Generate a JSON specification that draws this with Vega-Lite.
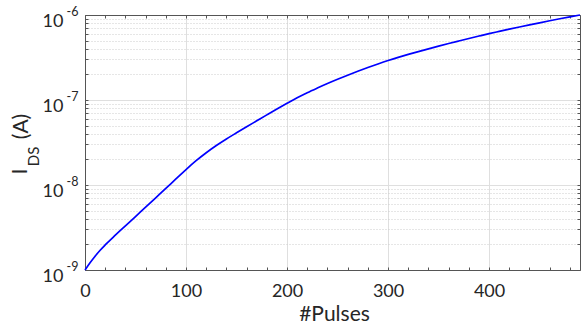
{
  "$schema": "https://vega.github.io/schema/vega-lite/v6.json",
  "width": 495,
  "height": 255,
  "autosize": {"type": "none"},
  "padding": {"left": 85, "top": 15, "right": 1, "bottom": 59},
  "background": "white",
  "config": {
    "view": {"stroke": null},
    "axis": {"labelFont": "Lato", "titleFont": "Lato", "labelColor": "#262626", "titleColor": "#262626", "titleFontWeight": "normal"}
  },
  "data": {
    "values": [
      {"pulses": 0, "ids": 1.000e-9},
      {"pulses": 5, "ids": 1.216e-9},
      {"pulses": 10, "ids": 1.454e-9},
      {"pulses": 15, "ids": 1.708e-9},
      {"pulses": 20, "ids": 1.972e-9},
      {"pulses": 30, "ids": 2.565e-9},
      {"pulses": 40, "ids": 3.304e-9},
      {"pulses": 50, "ids": 4.256e-9},
      {"pulses": 60, "ids": 5.483e-9},
      {"pulses": 70, "ids": 7.063e-9},
      {"pulses": 80, "ids": 9.099e-9},
      {"pulses": 90, "ids": 1.178e-8},
      {"pulses": 100, "ids": 1.521e-8},
      {"pulses": 110, "ids": 1.932e-8},
      {"pulses": 120, "ids": 2.399e-8},
      {"pulses": 130, "ids": 2.917e-8},
      {"pulses": 140, "ids": 3.483e-8},
      {"pulses": 150, "ids": 4.111e-8},
      {"pulses": 160, "ids": 4.842e-8},
      {"pulses": 170, "ids": 5.689e-8},
      {"pulses": 180, "ids": 6.683e-8},
      {"pulses": 190, "ids": 7.834e-8},
      {"pulses": 200, "ids": 9.141e-8},
      {"pulses": 210, "ids": 1.062e-7},
      {"pulses": 220, "ids": 1.219e-7},
      {"pulses": 230, "ids": 1.384e-7},
      {"pulses": 240, "ids": 1.563e-7},
      {"pulses": 250, "ids": 1.754e-7},
      {"pulses": 260, "ids": 1.959e-7},
      {"pulses": 270, "ids": 2.178e-7},
      {"pulses": 280, "ids": 2.410e-7},
      {"pulses": 290, "ids": 2.655e-7},
      {"pulses": 300, "ids": 2.911e-7},
      {"pulses": 310, "ids": 3.170e-7},
      {"pulses": 320, "ids": 3.436e-7},
      {"pulses": 330, "ids": 3.711e-7},
      {"pulses": 340, "ids": 3.999e-7},
      {"pulses": 350, "ids": 4.300e-7},
      {"pulses": 360, "ids": 4.618e-7},
      {"pulses": 370, "ids": 4.949e-7},
      {"pulses": 380, "ids": 5.297e-7},
      {"pulses": 390, "ids": 5.656e-7},
      {"pulses": 400, "ids": 6.033e-7},
      {"pulses": 410, "ids": 6.412e-7},
      {"pulses": 420, "ids": 6.808e-7},
      {"pulses": 430, "ids": 7.219e-7},
      {"pulses": 440, "ids": 7.647e-7},
      {"pulses": 450, "ids": 8.091e-7},
      {"pulses": 460, "ids": 8.551e-7},
      {"pulses": 470, "ids": 9.026e-7},
      {"pulses": 480, "ids": 9.506e-7},
      {"pulses": 490, "ids": 1.000e-6}
    ]
  },
  "layer": [
    {
      "mark": {"type": "line", "strokeOpacity": 0},
      "encoding": {
        "x": {"field": "pulses", "type": "quantitative", "scale": {"domain": [0, 490], "nice": false, "zero": false},
          "axis": {"orient": "bottom", "values": [0,20,40,60,80,100,120,140,160,180,200,220,240,260,280,300,320,340,360,380,400,420,440,460,480],
            "labels": false, "ticks": true, "tickSize": -3, "tickColor": "#555555", "grid": false, "domain": false, "title": null}},
        "y": {"field": "ids", "type": "quantitative", "scale": {"type": "log", "domain": [1e-9, 1e-6], "nice": false},
          "axis": {"orient": "left", "values": [1e-9,2e-9,3e-9,4e-9,5e-9,6e-9,7e-9,8e-9,9e-9,1e-8,2e-8,3e-8,4e-8,5e-8,6e-8,7e-8,8e-8,9e-8,1e-7,2e-7,3e-7,4e-7,5e-7,6e-7,7e-7,8e-7,9e-7,1e-6],
            "labels": false, "ticks": true, "tickSize": -3, "tickColor": "#555555", "grid": true, "gridColor": "#cccccc", "gridDash": [1, 2],
            "gridOpacity": {"condition": {"test": "indexof([1e-9,1e-8,1e-7,1e-6], datum.value) >= 0", "value": 0}, "value": 1},
            "domain": false, "title": null}}
      }
    },
    {
      "mark": {"type": "line", "color": "#0000ff", "strokeWidth": 1.7, "interpolate": "monotone"},
      "encoding": {
        "x": {"field": "pulses", "type": "quantitative", "scale": {"domain": [0, 490], "nice": false, "zero": false},
          "axis": {"orient": "bottom", "values": [0, 100, 200, 300, 400], "ticks": false, "grid": true, "gridColor": "#dfdfdf",
            "domain": true, "domainColor": "#555555", "labelFontSize": 18, "labelBaseline": "alphabetic", "labelPadding": 26.5,
            "labelAlign": "center", "labelFlush": false, "title": "#Pulses", "titleFontSize": 21, "titleX": 249, "titleY": 50,
            "titleBaseline": "alphabetic", "titleAlign": "center"}},
        "y": {"field": "ids", "type": "quantitative", "scale": {"type": "log", "domain": [1e-9, 1e-6], "nice": false},
          "axis": {"orient": "left", "values": [1e-9, 1e-8, 1e-7, 1e-6], "labelExpr": "'10'", "ticks": false, "grid": true, "gridColor": "#dfdfdf",
            "domain": true, "domainColor": "#555555", "labelFontSize": 18, "labelBaseline": "alphabetic", "labelOffset": 11.5,
            "labelPadding": 22, "labelAlign": "right", "labelFlush": false,
            "title": "I", "titleFontSize": 21, "titleAngle": 270, "titleX": -59, "titleY": 156, "titleAlign": "center", "titleBaseline": "alphabetic"}}
      }
    },
    {
      "mark": {"type": "line", "strokeOpacity": 0},
      "encoding": {
        "x": {"field": "pulses", "type": "quantitative", "scale": {"domain": [0, 490], "nice": false, "zero": false},
          "axis": {"orient": "top", "values": [0,20,40,60,80,100,120,140,160,180,200,220,240,260,280,300,320,340,360,380,400,420,440,460,480],
            "labels": false, "ticks": true, "tickSize": -3, "tickColor": "#555555", "grid": false, "domain": true, "domainColor": "#555555", "title": null}},
        "y": {"field": "ids", "type": "quantitative", "scale": {"type": "log", "domain": [1e-9, 1e-6], "nice": false},
          "axis": {"orient": "right", "values": [1e-9,2e-9,3e-9,4e-9,5e-9,6e-9,7e-9,8e-9,9e-9,1e-8,2e-8,3e-8,4e-8,5e-8,6e-8,7e-8,8e-8,9e-8,1e-7,2e-7,3e-7,4e-7,5e-7,6e-7,7e-7,8e-7,9e-7,1e-6],
            "labels": false, "ticks": true, "tickSize": -3, "tickColor": "#555555", "grid": false, "domain": true, "domainColor": "#555555", "title": null}}
      }
    },
    {
      "mark": {"type": "line", "strokeOpacity": 0},
      "encoding": {
        "x": {"field": "pulses", "type": "quantitative", "scale": {"domain": [0, 490], "nice": false, "zero": false}, "axis": null},
        "y": {"field": "ids", "type": "quantitative", "scale": {"type": "log", "domain": [1e-9, 1e-6], "nice": false},
          "axis": {"orient": "left", "values": [1e-9, 1e-8, 1e-7, 1e-6],
            "labelExpr": "datum.value == 1e-6 ? '-6' : datum.value == 1e-7 ? '-7' : datum.value == 1e-8 ? '-8' : '-9'",
            "ticks": false, "grid": false, "domain": false, "labelFontSize": 12.5, "labelBaseline": "alphabetic", "labelOffset": 0.7,
            "labelPadding": 7, "labelAlign": "right", "labelFlush": false,
            "title": "DS", "titleFontSize": 15, "titleAngle": 270, "titleX": -47, "titleY": 141, "titleAlign": "center", "titleBaseline": "alphabetic"}}
      }
    },
    {
      "mark": {"type": "line", "strokeOpacity": 0},
      "encoding": {
        "x": {"field": "pulses", "type": "quantitative", "scale": {"domain": [0, 490], "nice": false, "zero": false}, "axis": null},
        "y": {"field": "ids", "type": "quantitative", "scale": {"type": "log", "domain": [1e-9, 1e-6], "nice": false},
          "axis": {"orient": "left", "labels": false, "ticks": false, "grid": false, "domain": false,
            "title": "(A)", "titleFontSize": 21, "titleAngle": 270, "titleX": -58, "titleY": 111, "titleAlign": "center", "titleBaseline": "alphabetic"}}
      }
    }
  ],
  "resolve": {"axis": {"x": "independent", "y": "independent"}}
}
